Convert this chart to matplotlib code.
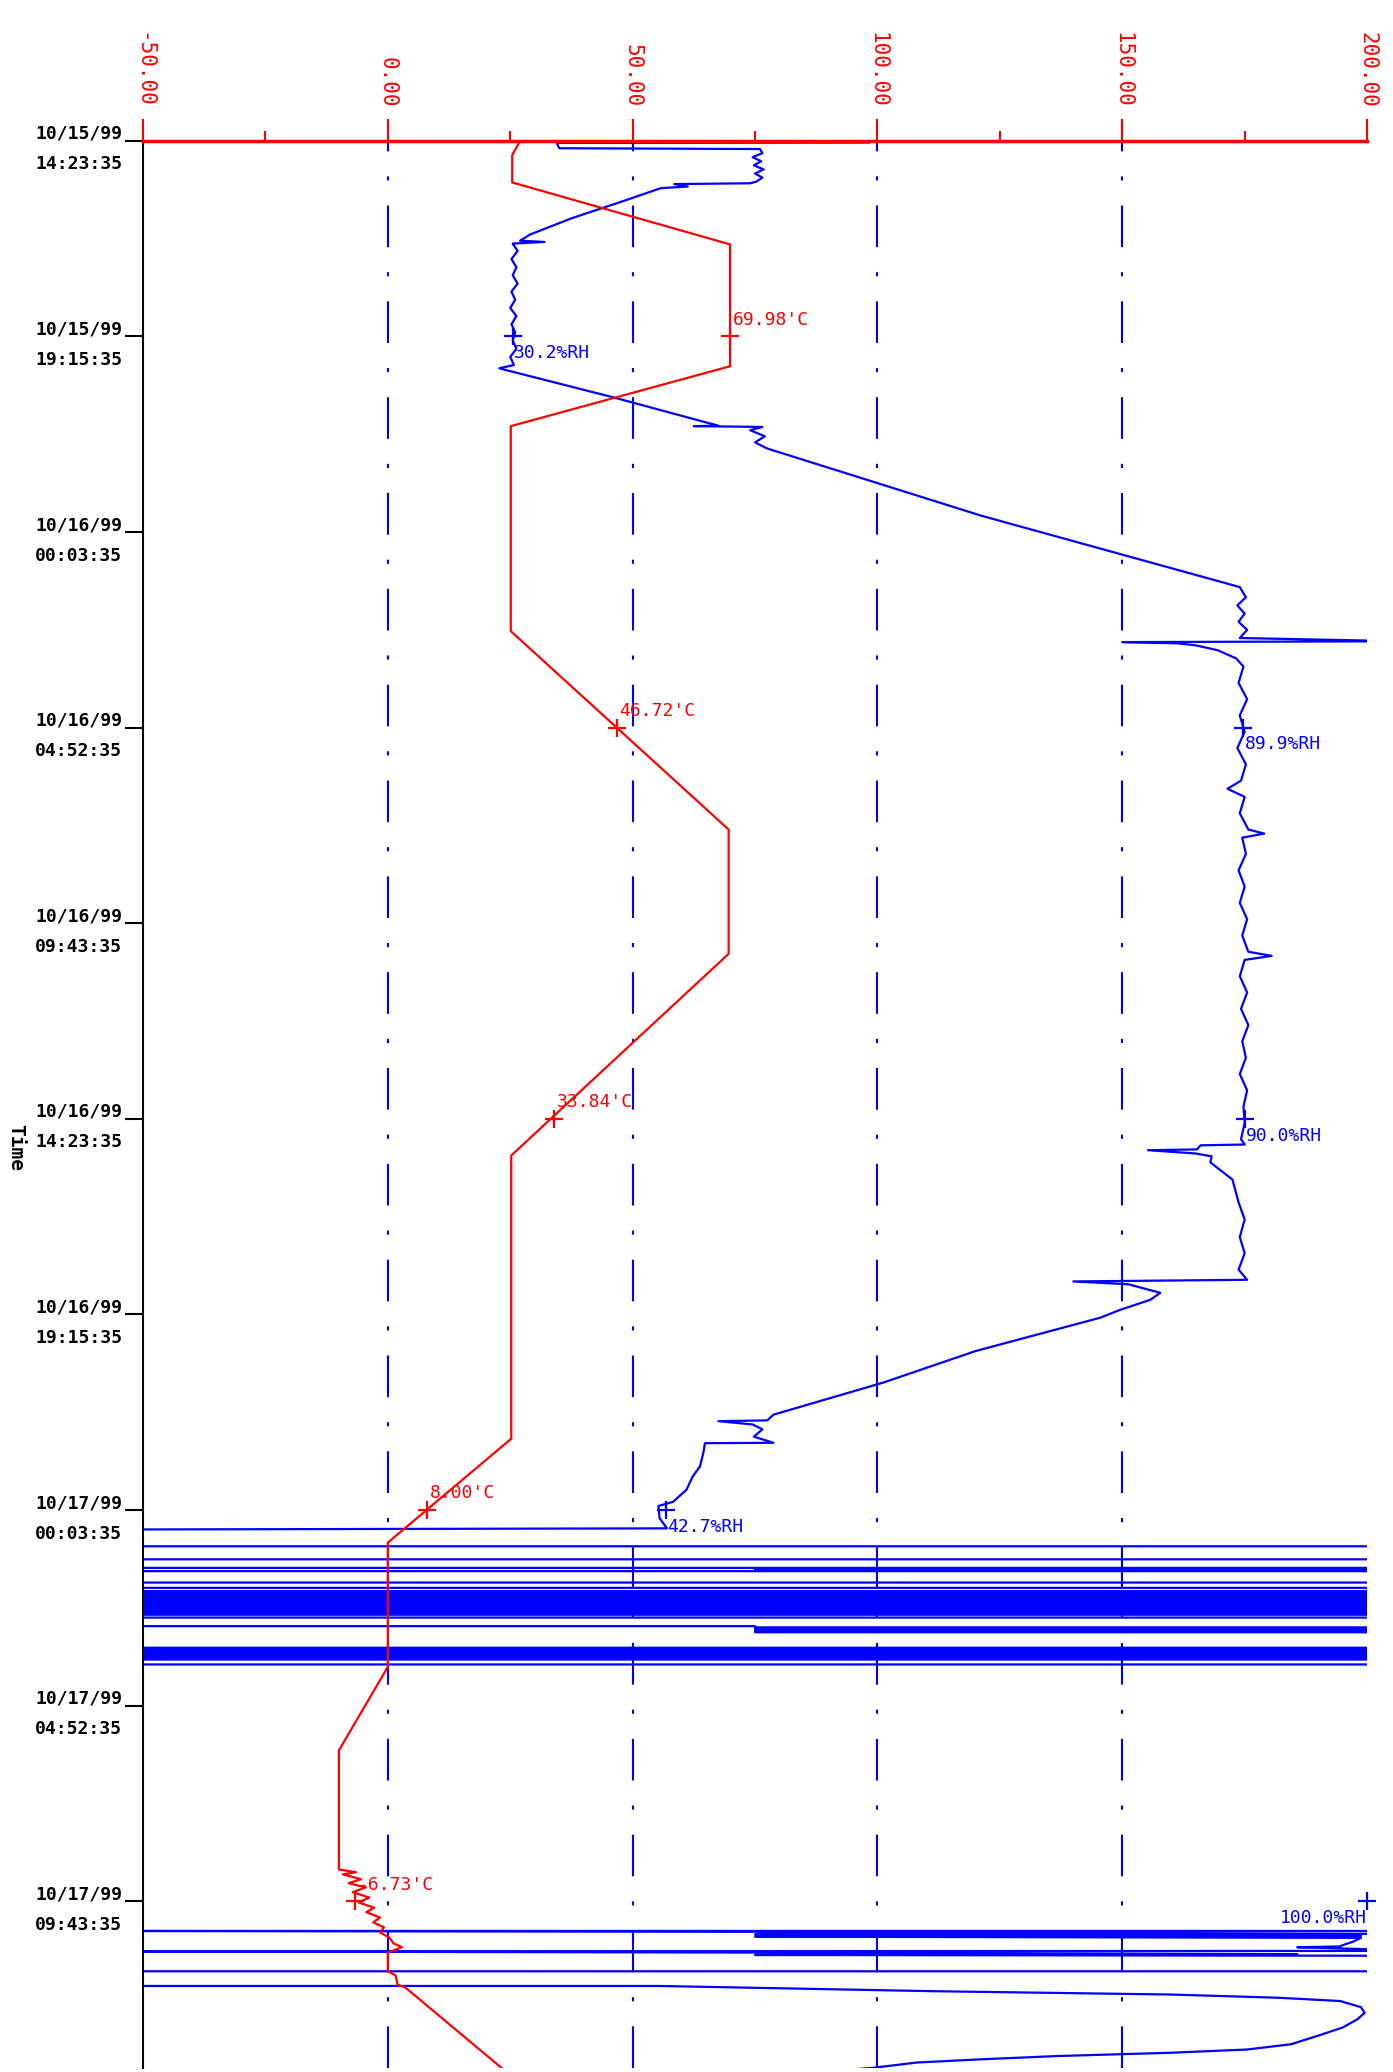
"""
Temperature / humidity strip chart, 10/15/99 - 10/17/99
"""

import matplotlib.pyplot as plt
from matplotlib.ticker import MultipleLocator

# hours since 10/15/99 14:23:35
temp_h = [0.00, 0.35, 1.02, 2.54, 5.53, 7.00, 12.03, 16.90, 19.95, 24.90, 31.85, 34.40,
          37.45, 39.50, 42.42, 42.49, 42.54, 42.66, 42.76, 42.86, 42.98, 43.11, 43.23,
          43.36, 43.47, 43.60, 43.72, 43.84, 43.97, 44.09, 44.24, 44.33, 44.46, 44.92,
          45.02, 45.25, 45.32, 47.35]
temp_c = [27.0, 25.4, 25.4, 69.9, 69.9, 25.1, 25.1, 69.6, 69.6, 25.2, 25.2, 0.0,
          0.0, -10.0, -10.0, -6.5, -9.2, -5.5, -8.0, -4.5, -7.2, -3.8, -6.0,
          -2.8, -4.4, -1.6, -3.0, -0.8, -1.6, 0.3, 1.2, 2.9, 0.0, 0.0,
          1.6, 2.0, 3.6, 23.8]

rh_h = [0.04, 0.05, 0.18, 0.20, 0.30, 0.40, 0.50, 0.60, 0.70, 0.80, 0.90, 1.00, 1.04, 1.06,
        1.12, 1.16, 1.50, 1.90, 2.30, 2.45, 2.48, 2.52, 2.70, 2.90, 3.10, 3.30, 3.50, 3.70,
        3.90, 4.10, 4.30, 4.50, 4.70, 4.90, 5.10, 5.30, 5.50, 5.58, 5.62, 6.30, 6.99, 7.00,
        7.02, 7.10, 7.25, 7.40, 7.55, 9.20, 10.95, 11.20, 11.40, 11.60, 11.80, 12.00, 12.20,
        12.28, 12.30, 12.33, 12.38, 12.50, 12.70, 12.90, 13.30, 13.70, 14.10, 14.50, 14.90,
        15.30, 15.70, 15.90, 16.10, 16.50, 16.90, 17.00, 17.10, 17.50, 17.90, 18.30, 18.70,
        19.10, 19.50, 19.90, 20.00, 20.10, 20.50, 20.90, 21.30, 21.70, 22.10, 22.50, 22.90,
        23.30, 23.70, 24.10, 24.50, 24.63, 24.65, 24.75, 24.77, 24.85, 24.92, 25.07, 25.49,
        26.05, 26.47, 26.90, 27.30, 27.70, 27.95, 27.99, 28.06, 28.27, 28.44, 28.69, 28.88,
        29.70, 30.47, 31.26, 31.40, 31.42, 31.50, 31.62, 31.80, 31.95, 31.96, 32.16, 32.53,
        32.78, 33.10, 33.40, 33.50, 33.80, 34.05,
        34.08, 34.49, 34.49, 34.81, 34.81, 35.02, 35.02, 35.06, 35.06, 35.08, 35.08, 35.10,
        35.10, 35.38, 35.38, 35.51, 35.51,
        35.59, 35.59, 35.64, 35.64, 35.69, 35.69, 35.74, 35.74, 35.79, 35.79, 35.84, 35.84,
        35.89, 35.89, 35.94, 35.94, 35.99, 35.99, 36.04, 36.04, 36.09, 36.09, 36.13, 36.13,
        36.17, 36.17, 36.24, 36.24, 36.45, 36.45, 36.48, 36.48, 36.51, 36.51, 36.54, 36.54,
        36.57, 36.57, 36.60, 36.60, 36.98, 36.98, 37.03, 37.03, 37.08, 37.08, 37.13, 37.13,
        37.18, 37.18, 37.23, 37.23, 37.27, 37.27, 37.39, 37.39,
        43.93, 43.93, 43.95, 44.00, 44.02, 44.05, 44.07, 44.10, 44.20, 44.28, 44.31, 44.33,
        44.42, 44.43, 44.46, 44.50, 44.52, 44.54, 44.92, 44.92, 45.28, 45.28, 45.41, 45.49,
        45.57, 45.65, 45.80, 45.94, 46.10, 46.30, 46.50, 46.71, 46.84, 46.92, 47.00, 47.08,
        47.16, 47.29, 47.35]
rh_pct = [59.3, 33.8, 34.0, 50.4, 50.6, 49.8, 50.5, 49.9, 50.7, 50.0, 50.6, 50.1, 49.6, 43.4,
          44.5, 42.3, 39.0, 35.0, 31.6, 30.8, 32.8, 30.2, 30.6, 30.1, 30.5, 30.2, 30.6, 30.1,
          30.4, 30.0, 30.5, 30.1, 30.4, 30.2, 30.5, 30.0, 30.3, 29.1, 29.6, 38.5, 47.0, 45.0,
          50.6, 49.6, 50.8, 50.0, 51.0, 68.5, 89.6, 90.1, 89.4, 90.0, 89.5, 90.2, 89.6,
          103.0, 80.0, 84.5, 86.0, 87.8, 89.3, 89.9, 89.5, 90.2, 89.6, 90.0, 89.4,
          90.1, 89.7, 88.6, 90.0, 89.6, 90.3, 91.6, 89.8, 90.1, 89.5, 90.0, 89.6,
          90.2, 89.8, 90.3, 92.2, 90.0, 89.6, 90.2, 89.7, 90.3, 89.8, 90.1, 89.6,
          90.2, 89.9, 90.0, 89.7, 90.0, 86.4, 86.1, 82.1, 86.0, 87.3, 87.2, 89.0,
          89.5, 90.0, 89.6, 90.0, 89.5, 90.2, 76.0, 80.5, 83.1, 82.3, 79.8, 78.2,
          68.0, 60.5, 51.5, 51.0, 47.0, 49.8, 50.6, 49.9, 51.5, 45.9, 45.8, 45.5,
          44.9, 44.4, 43.3, 42.1, 42.2, 42.8,
          -5, -5, 105, 105, -5, -5, 105, 105, 50, 50, 105, 105,
          -5, -5, 105, 105, -5,
          -5, 105, 105, -5, -5, 105, 105, -5, -5, 105, 105, -5,
          -5, 105, 105, -5, -5, 105, 105, -5, -5, 105, 105, -5,
          -5, 105, 105, -5, -5, 50, 50, 105, 105, 50, 50, 105,
          105, 50, 50, 105, 105, -5, -5, 105, 105, -5, -5, 105,
          105, -5, -5, 105, 105, -5, -5, 105,
          105, -5, 50, 100, 50, 99.5, 50, 99.5, 98.8, 98.0, 97.8, 94.3,
          105, -5, 50, 94.3, 50, 105, 105, -5, -5, 42.1, 64.8, 83.9,
          92.8, 97.8, 99.5, 99.8, 99.2, 98.0, 96.0, 93.8, 90.2, 83.9, 74.7, 68.5,
          63.2, 59.6, 57.0]

tick_h = [0, 4.8, 9.6, 14.4, 19.2, 24.0, 28.8, 33.6, 38.4, 43.2]
tick_labels = ["10/15/99\n14:23:35", "10/15/99\n19:15:35", "10/16/99\n00:03:35",
               "10/16/99\n04:52:35", "10/16/99\n09:43:35", "10/16/99\n14:23:35",
               "10/16/99\n19:15:35", "10/17/99\n00:03:35", "10/17/99\n04:52:35",
               "10/17/99\n09:43:35"]

temp_ticks = [-50, 0, 50, 100, 150, 200]
temp_tick_labels = ["-50.00", "0.00", "50.00", "100.00", "150.00", "200.00"]
grid_vals = [0, 50, 100, 150]

# cursor readouts
mark_h = [4.8, 14.4, 24.0, 33.6, 43.2]
mark_temp = [69.98, 46.72, 33.84, 8.00, -6.73]
mark_temp_txt = ["69.98'C", "46.72'C", "33.84'C", "8.00'C", "-6.73'C"]
mark_rh = [30.2, 89.9, 90.0, 42.7, 100.0]
mark_rh_txt = ["30.2%RH", "89.9%RH", "90.0%RH", "42.7%RH", "100.0%RH"]

RED = '#ff0000'
BLUE = '#0000ff'
MONO = 'DejaVu Sans Mono'

fig = plt.figure(figsize=(13.93, 20.72), dpi=100)
ax = fig.add_axes([0.1027, 0.002, 0.8787, 0.930])
ax_rh = ax.twiny()
ax.set_zorder(ax_rh.get_zorder() + 1)
ax.patch.set_visible(False)

ax.set_xlim(-50, 200)
ax_rh.set_xlim(0, 100)
ax.set_ylim(47.29, 0)

# humidity (blue) on the 0-100 % scale
ax_rh.plot(rh_pct, rh_h, color=BLUE, lw=1.6)
ax_rh.plot(mark_rh, mark_h, '+', color=BLUE, ms=13, mew=1.6, clip_on=False)
for x, h, txt in zip(mark_rh, mark_h, mark_rh_txt):
    ha = 'right' if x >= 99 else 'left'
    ax_rh.annotate(txt, (x, h), xytext=(1 if ha == 'left' else 0, -12),
                   textcoords='offset points', color=BLUE, fontsize=13,
                   family=MONO, ha=ha, va='center', annotation_clip=False)

# grid
for v in grid_vals:
    ax.axvline(v, color=BLUE, lw=1.5, ls=(0, (20, 12, 2, 12)), zorder=1)

# temperature (red)
ax.plot(temp_c, temp_h, color=RED, lw=1.6, zorder=3)
ax.plot(mark_temp, mark_h, '+', color=RED, ms=13, mew=1.6, zorder=4)
for x, h, txt in zip(mark_temp, mark_h, mark_temp_txt):
    ax.annotate(txt, (x, h), xytext=(2, 12), textcoords='offset points',
                color=RED, fontsize=13, family=MONO, ha='left', va='center')

# top axis
ax.xaxis.tick_top()
ax.set_xticks(temp_ticks)
ax.set_xticklabels(temp_tick_labels)
ax.xaxis.set_minor_locator(MultipleLocator(25))
ax.tick_params(axis='x', which='major', colors=RED, length=16, width=1.5,
               pad=8, labelsize=15, labelrotation=270, direction='out')
ax.tick_params(axis='x', which='minor', color=RED, length=7, width=1.5, direction='out')
for lbl in ax.get_xticklabels():
    lbl.set_family(MONO)

# time axis
ax.set_yticks(tick_h)
ax.set_yticklabels(tick_labels)
ax.tick_params(axis='y', length=13, width=1.5, color='black', pad=2, labelsize=13)
for lbl in ax.get_yticklabels():
    lbl.set_family(MONO)
    lbl.set_fontweight('bold')
    lbl.set_linespacing(1.9)

ax_rh.set_xticks([])
for s in ax_rh.spines.values():
    s.set_visible(False)
ax.spines['right'].set_visible(False)
ax.spines['bottom'].set_visible(False)
ax.spines['top'].set_color(RED)
ax.spines['top'].set_linewidth(2.5)
ax.spines['left'].set_color('black')
ax.spines['left'].set_linewidth(1.5)

fig.text(0.011, 0.446, 'Time', rotation=270, fontsize=14, fontweight='bold',
         family=MONO, ha='center', va='center')

fig.savefig('out.png', dpi=100)
